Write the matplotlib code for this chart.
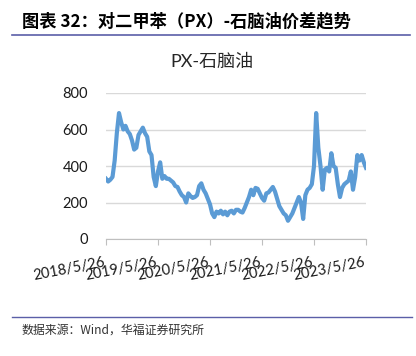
import pandas as pd
import matplotlib.pyplot as plt
import matplotlib.dates as mdates

# ---- data ----
start, end = '2018-05-26', '2023-05-26'
# PX - naphtha spread, roughly every half month
spread = [330, 315, 325, 340, 430, 580, 690, 640, 600, 620,
          590, 575, 540, 490, 500, 570, 590, 610, 580, 560,
          480, 460, 340, 290, 370, 420, 330, 345, 330, 330,
          320, 310, 290, 285, 260, 240, 230, 200, 250, 235,
          225, 230, 240, 290, 305, 270, 250, 220, 190, 140,
          120, 150, 140, 155, 135, 150, 130, 150, 155, 140,
          160, 160, 150, 145, 170, 200, 230, 270, 240, 280,
          275, 250, 225, 210, 250, 255, 270, 285, 260, 220,
          180, 160, 140, 130, 100, 120, 140, 170, 200, 230,
          200, 110, 240, 270, 280, 300, 400, 690, 500, 400,
          270, 380, 390, 370, 470, 400, 390, 300, 230, 280,
          300, 310, 320, 370, 270, 340, 460, 430, 460, 420,
          390]
dates = pd.date_range(start, end, periods=len(spread))

tick_dates = pd.to_datetime(['2018-05-26', '2019-05-26', '2020-05-26',
                             '2021-05-26', '2022-05-26', '2023-05-26'])
tick_labels = ['2018/5/26', '2019/5/26', '2020/5/26',
               '2021/5/26', '2022/5/26', '2023/5/26']
y_ticks = [0, 200, 400, 600, 800]

plt.rcParams['font.family'] = ['Lato', 'Noto Sans CJK SC', 'DejaVu Sans']

fig = plt.figure(figsize=(4.16, 3.56), dpi=100)
ax = fig.add_axes([106 / 416, 1 - 239 / 356, 260 / 416, 146 / 356])

ax.plot(dates, spread, color='#5b9bd5', linewidth=3, solid_joinstyle='round')

ax.set_xlim(pd.Timestamp(start), pd.Timestamp(end))
ax.set_ylim(0, 800)
ax.set_yticks(y_ticks)
ax.yaxis.grid(True, color='#d9d9d9', linewidth=1)
ax.set_axisbelow(True)
ax.tick_params(axis='y', length=0, pad=13, labelsize=10.5, labelcolor='#1a1a1a')

ax.set_xticks(tick_dates)
ax.set_xticklabels(tick_labels, rotation=11, ha='right', fontsize=10.5, color='#1a1a1a')
ax.tick_params(axis='x', length=4, color='#bfbfbf', pad=8)

for s in ['top', 'right', 'left']:
    ax.spines[s].set_visible(False)
ax.spines['bottom'].set_color('#bfbfbf')

# chart title
fig.text(212 / 416, 1 - 62 / 356, 'PX-石脑油', ha='center', va='center',
         fontsize=13, color='#262626', family=['Lato', 'Noto Sans CJK SC'])

# report header + footer
fig.text(22 / 416, 1 - 21 / 356, '图表 32：对二甲苯（PX）-石脑油价差趋势', ha='left', va='center',
         fontsize=12.4, fontweight='bold', color='#000000',
         family=['Noto Sans CJK SC', 'DejaVu Sans'])
fig.add_artist(plt.Line2D([12 / 416, 410 / 416], [1 - 34.5 / 356, 1 - 34.5 / 356],
                          color='#5b5fa8', linewidth=1.2))
fig.add_artist(plt.Line2D([12 / 416, 412 / 416], [1 - 317 / 356, 1 - 317 / 356],
                          color='#5b5fa8', linewidth=1.0))
fig.text(22 / 416, 1 - 330 / 356, '数据来源：Wind，华福证券研究所', ha='left', va='center',
         fontsize=8.6, color='#333333', family=['Noto Sans CJK SC', 'DejaVu Sans'])

fig.savefig('out.png', dpi=100)
